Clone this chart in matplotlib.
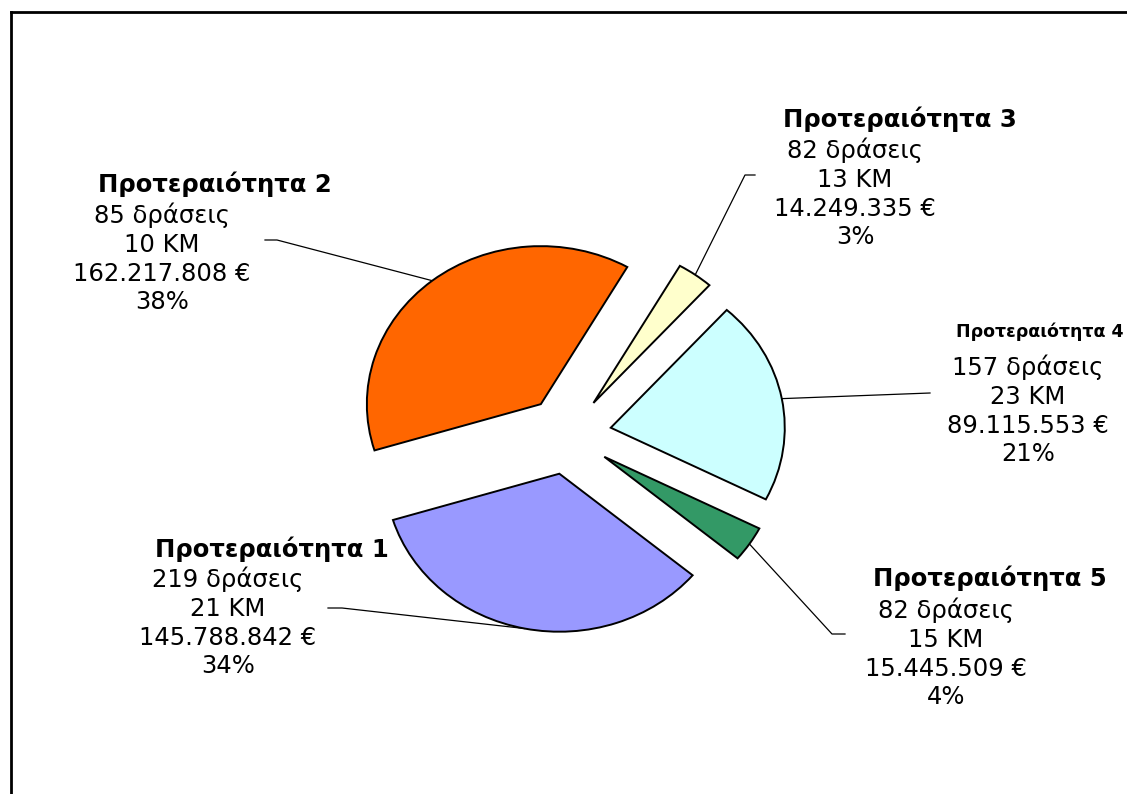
import math
import matplotlib
matplotlib.use("Agg")
import matplotlib.pyplot as plt
from matplotlib.lines import Line2D

# data
labels = ["Προτεραιότητα 1", "Προτεραιότητα 2", "Προτεραιότητα 3",
          "Προτεραιότητα 4", "Προτεραιότητα 5"]
actions = [219, 85, 82, 157, 82]
km = [21, 10, 13, 23, 15]
euros = [145788842, 162217808, 14249335, 89115553, 15445509]
colors = ["#9999FF", "#FF6600", "#FFFFCC", "#CCFFFF", "#339966"]

# layout (pixel positions in the 1127x794 picture)
W, H = 1127, 794
cx, cy, rx, ry = 568, 435, 174, 158      # pie centre and radii in px
title_pos = [(272, 557), (215, 192), (900, 127), (1124, 337), (990, 586)]
body_pos = [(228, 587), (162, 223), (855, 158), (1028, 375), (946, 618)]
leader_start = [(328, 608), (265, 240), (755, 175), (930, 393), (845, 634)]
leader_bend = [(342, 608), (277, 240), (745, 175), (930, 393), (832, 634)]
line_gap = 28.8

fig = plt.figure(figsize=(W / 100, H / 100), dpi=100)
ax = fig.add_axes([0, 0, 1, 1])

wedges, _ = ax.pie(euros, colors=colors, startangle=-40, counterclock=False,
                   explode=[0.25] * 5,
                   wedgeprops=dict(edgecolor="black", linewidth=1.4))
ax.set_aspect("auto")
ax.set_xlim(-cx / rx, (W - cx) / rx)
ax.set_ylim(-(H - cy) / ry, cy / ry)
ax.axis("off")


def to_data(x, y):
    return (x - cx) / rx, (cy - y) / ry


def fmt_eur(v):
    return f"{v:,}".replace(",", ".") + " €"


total = sum(euros)
for i, w in enumerate(wedges):
    # leader line from the label to the middle of the wedge arc
    mid = math.radians((w.theta1 + w.theta2) / 2)
    ex = w.center[0] + w.r * math.cos(mid)
    ey = w.center[1] + w.r * math.sin(mid)
    sx, sy = to_data(*leader_start[i])
    bx, by = to_data(*leader_bend[i])
    ax.plot([sx, bx, ex], [sy, by, ey], color="black", lw=0.9, zorder=0)

    # title (the one for priority 4 is smaller and sits at the right edge)
    tx, ty = title_pos[i]
    if i == 3:
        fig.text(tx / W, 1 - ty / H, labels[i], fontsize=12.5, fontweight="bold",
                 ha="right", va="baseline")
    else:
        fig.text(tx / W, 1 - ty / H, labels[i], fontsize=17.5, fontweight="bold",
                 ha="center", va="baseline")

    # body lines
    pct = round(euros[i] / total * 100)
    lines = [f"{actions[i]} δράσεις", f"{km[i]} KM", fmt_eur(euros[i]), f"{pct}%"]
    bx0, by0 = body_pos[i]
    for j, txt in enumerate(lines):
        fig.text(bx0 / W, 1 - (by0 + j * line_gap) / H, txt, fontsize=17.5,
                 ha="center", va="baseline")

# chart border (cut off on the right and at the bottom)
fig.add_artist(Line2D([11 / W, 11 / W], [0, 1 - 12 / H], color="black", lw=2,
                      transform=fig.transFigure))
fig.add_artist(Line2D([11 / W, 1], [1 - 12 / H, 1 - 12 / H], color="black", lw=2,
                      transform=fig.transFigure))

fig.savefig("out.png", dpi=100)
